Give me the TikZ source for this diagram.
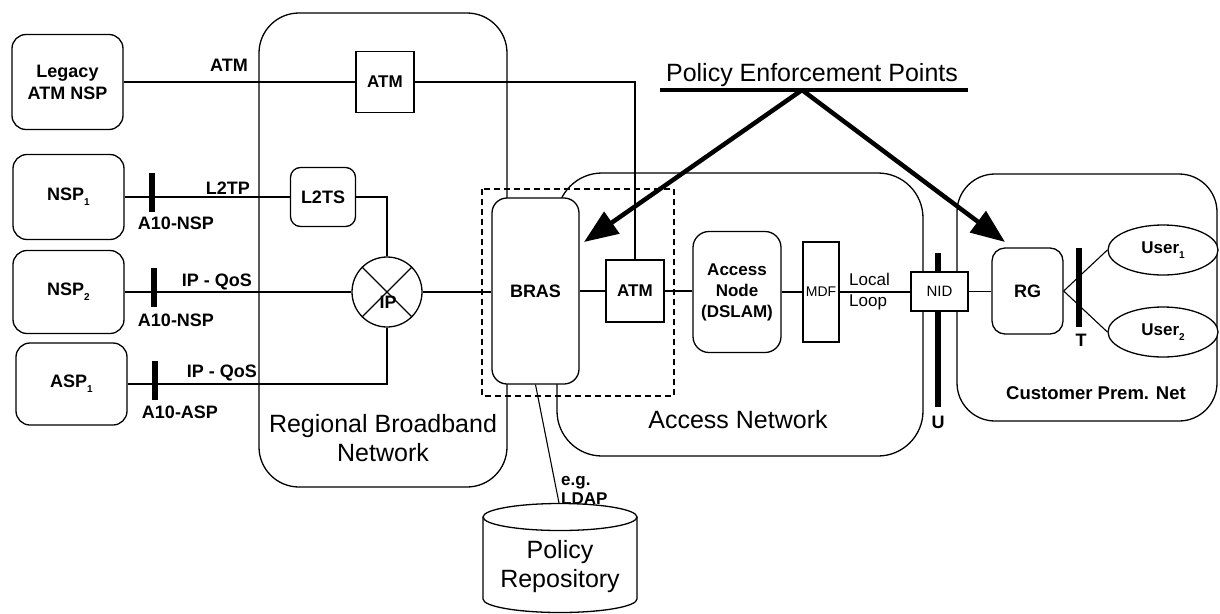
\documentclass[tikz,border=0pt]{standalone}
\usepackage{fontspec}
\setmainfont{Liberation Sans}
\usetikzlibrary{arrows.meta,shapes.geometric}
\newcommand{\mysub}[1]{\raisebox{-0.55ex}{\fontsize{10}{10}\selectfont #1}}
\begin{document}
\begin{tikzpicture}[x=1pt,y=-1pt,
  ln/.style={line width=1.1pt},
  area/.style={draw,line width=1.3pt},
  rbox/.style={draw,line width=1.3pt,fill=white,rounded corners=#1,inner sep=0pt,align=center,font=\fontsize{18}{22}\selectfont\bfseries},
  rbox/.default=14pt,
  sbox/.style={draw,line width=1.3pt,fill=white,inner sep=0pt,align=center,font=\fontsize{17}{21}\selectfont\bfseries},
  bar/.style={fill=black,inner sep=0pt,minimum width=6pt},
  lbl/.style={inner sep=0pt,font=\fontsize{18}{21}\selectfont\bfseries},
  big/.style={inner sep=0pt,align=center,font=\fontsize{25}{29}\selectfont},
  user/.style={ellipse,draw,line width=1.3pt,fill=white,inner sep=0pt,minimum width=110pt,minimum height=50pt,font=\fontsize{17}{21}\selectfont\bfseries}
]
\useasboundingbox (0,0) rectangle (1220,613);

% large areas
\draw[area,rounded corners=40pt] (259,13) rectangle (507,487);
\draw[area,rounded corners=45pt] (557,173) rectangle (923,456);
\draw[area,rounded corners=38pt] (957,174) rectangle (1217,421);

% area labels
\node[big] (rbn) at (383,438) {Regional Broadband\\Network};
\node[big] (accn) at (738,420) {Access Network};
\node[lbl,font=\fontsize{18.5}{21}\selectfont\bfseries] (cpn) at (1096,393) {Customer Prem. Net};

% provider boxes
\node[rbox,minimum width=111pt,minimum height=95pt] (legacy) at (67.5,82) {Legacy\\ATM NSP};
\node[rbox,minimum width=111pt,minimum height=85pt] (nsp1) at (68.5,197) {NSP\mysub{1}};
\node[rbox,minimum width=111pt,minimum height=83pt] (nsp2) at (68.5,292) {NSP\mysub{2}};
\node[rbox,minimum width=111pt,minimum height=82pt] (asp1) at (71.5,384) {ASP\mysub{1}};

% regional network elements
\node[sbox,minimum width=58pt,minimum height=61pt] (atm1) at (385,82) {ATM};
\node[rbox=10pt,minimum width=65pt,minimum height=59pt] (l2ts) at (323,197) {L2TS};
\node[circle,draw,line width=1.3pt,fill=white,inner sep=0pt,minimum size=70pt] (ip) at (387,292) {};
\draw[ln] (ip.north west) -- (ip.south east);
\draw[ln] (ip.north east) -- (ip.south west);
\node[lbl] (iplbl) at (388,302) {IP};

% BRAS / access elements
\node[rbox=15pt,minimum width=87pt,minimum height=186pt] (bras) at (535.5,291) {BRAS};
\node[sbox,minimum width=58pt,minimum height=62pt] (atm2) at (635,291) {ATM};
\node[rbox=16pt,minimum width=88pt,minimum height=121pt,font=\fontsize{17}{21}\selectfont\bfseries] (an) at (737,292) {Access\\Node\\(DSLAM)};
\node[sbox,minimum width=36pt,minimum height=100pt,font=\fontsize{14}{17}\selectfont] (mdf) at (821,292) {MDF};

% bars
\node[bar,minimum height=39pt] (b1) at (152,192.5) {};
\node[bar,minimum height=39pt] (b2) at (154,287.5) {};
\node[bar,minimum height=39pt] (b3) at (155,380.5) {};
\node[bar,minimum height=154pt] (ubar) at (938,330) {};
\node[bar,minimum height=79pt] (tbar) at (1079,287.5) {};

\node[sbox,minimum width=57pt,minimum height=39pt,font=\fontsize{15}{18}\selectfont] (nid) at (939.5,291.5) {NID};
\node[rbox=13pt,minimum width=71pt,minimum height=86pt] (rg) at (1027.5,291) {RG};
\node[user] (u1) at (1163,250) {User\mysub{1}};
\node[user] (u2) at (1163,332) {User\mysub{2}};

% connectors
\draw[ln] (legacy.east) -- (atm1.west);
\draw[ln] (atm1.east) -| (atm2.north);
\draw[ln] (nsp1.east) -- (l2ts.west);
\draw[ln] (l2ts.east) -| (ip.north);
\draw[ln] (nsp2.east) -- (ip.west);
\draw[ln] (asp1.east) -| (ip.south);
\draw[ln] (ip.east) -- (ip.east -| bras.west);
\draw[ln] (bras.east) -- (atm2.west);
\draw[ln] (atm2.east) -- (atm2.east -| an.west);
\draw[ln] (an.east) -- (mdf.west);
\draw[ln] (mdf.east) -- (mdf.east -| nid.west);
\draw[ln] (nid.east) -- (nid.east -| rg.west);
\draw[ln] (rg.east) -- (u1.west);
\draw[ln] (rg.east) -- (u2.west);

% link labels
\node[lbl,anchor=east] (latm) at (248,65) {ATM};
\node[lbl,anchor=east] (ll2tp) at (250,188) {L2TP};
\node[lbl,anchor=east] (lqos1) at (252,282) {IP - QoS};
\node[lbl,anchor=east] (lqos2) at (257,373) {IP - QoS};
\node[lbl] (la1) at (176,223) {A10-NSP};
\node[lbl] (la2) at (176,320) {A10-NSP};
\node[lbl] (la3) at (180,412) {A10-ASP};
\node[lbl] (lu) at (938,422) {U};
\node[lbl] (lt) at (1081,340) {T};
\node[inner sep=0pt,anchor=west,align=left,font=\fontsize{17}{21}\selectfont] (lloop) at (849,292) {Local\\Loop};

% dashed policy enforcement area
\draw[line width=1.2pt,dash pattern=on 6pt off 4pt] (482,189) rectangle (674,396);

% policy repository
\coordinate (cyltop) at (559,503);
\draw[area,fill=white] (483,517) -- (483,599) arc[start angle=180,end angle=360,x radius=77pt,y radius=13.5pt] -- (637,517);
\draw[area,fill=white] (560,517) ellipse [x radius=77pt, y radius=13.5pt];
\node[big] (repo) at (560,567) {Policy\\Repository};
\draw[ln] (bras.south) -- (cyltop);
\node[inner sep=0pt,anchor=west,align=left,font=\fontsize{17}{19}\selectfont\bfseries] (ldap) at (561,490) {e.g.\\LDAP};

% policy enforcement points
\node[big] (pet) at (812,75) {Policy Enforcement Points};
\coordinate (ulA) at (660,90);
\coordinate (ulB) at (968,90);
\coordinate (pep) at (802,90);
\coordinate (tipL) at (584,242);
\coordinate (tipR) at (1005,242);
\draw[line width=4pt] (ulA) -- (ulB);
\draw[line width=4.5pt,-{Triangle[length=34pt,width=26pt]}] (pep) -- (tipL);
\draw[line width=4.5pt,-{Triangle[length=34pt,width=26pt]}] (pep) -- (tipR);
\end{tikzpicture}
\end{document}
